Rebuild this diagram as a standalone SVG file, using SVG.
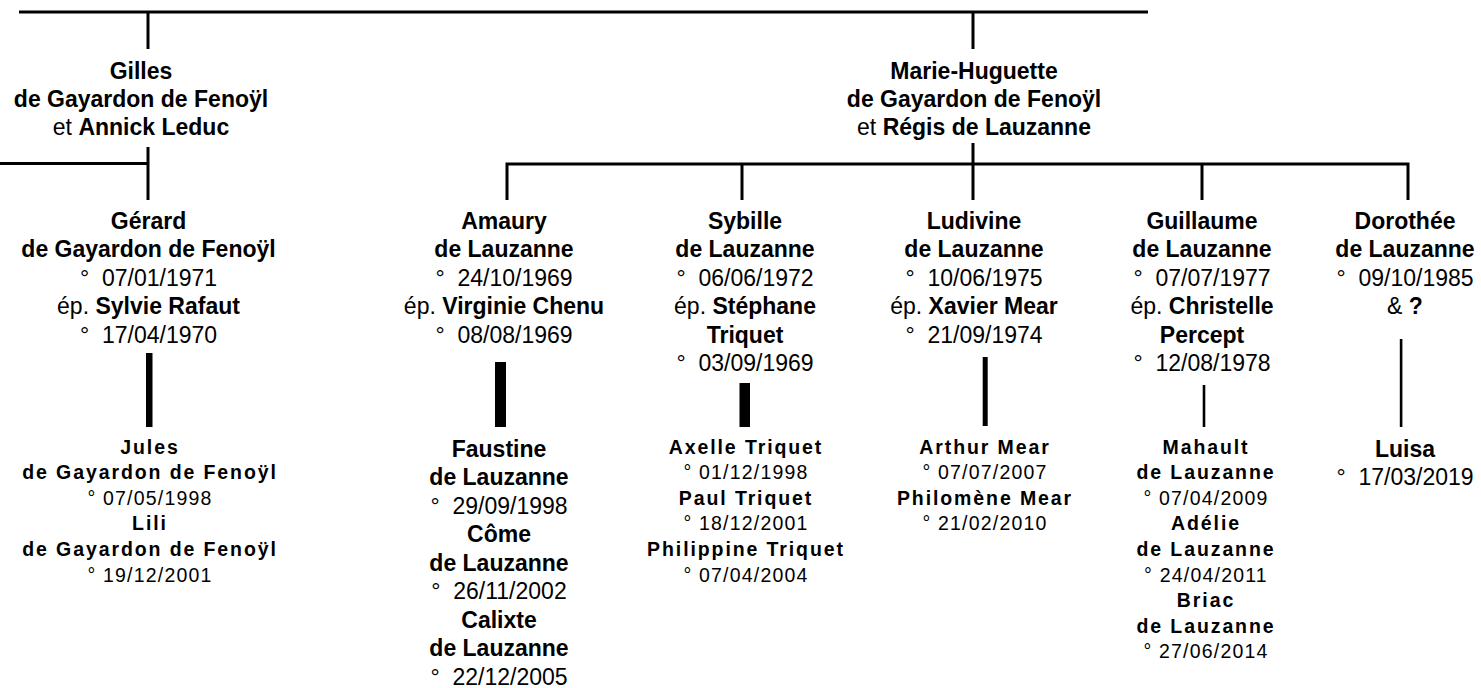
<svg xmlns="http://www.w3.org/2000/svg" width="1481" height="688" viewBox="0 0 1481 688">
<style>
.t { font-family: "Liberation Sans", Arial, sans-serif; font-size: 23px; text-anchor: middle; fill: #000; }
.b { font-weight: bold; }
.gn { font-family: "Liberation Sans", Arial, sans-serif; font-size: 19.5px; font-weight: bold; letter-spacing: 1.9px; text-anchor: middle; fill: #000; }
.gd { font-family: "Liberation Sans", Arial, sans-serif; font-size: 19.5px; letter-spacing: 1.2px; text-anchor: middle; fill: #000; }
.ln { stroke: #000; stroke-width: 3; fill: none; }
.bar { fill: #000; }
</style>
<rect width="1481" height="688" fill="#fff"/>
<g id="connectors">
  <line class="ln" x1="19" y1="12" x2="1148" y2="12"/>
  <line class="ln" x1="148" y1="12" x2="148" y2="49"/>
  <line class="ln" x1="973" y1="12" x2="973" y2="49"/>
  <line class="ln" x1="148" y1="147" x2="148" y2="200"/>
  <line class="ln" x1="0" y1="163.5" x2="148" y2="163.5"/>
  <line class="ln" x1="973" y1="143" x2="973" y2="200"/>
  <path class="ln" d="M507,200 V164 H1408 V200"/>
  <line class="ln" x1="742" y1="164" x2="742" y2="200"/>
  <line class="ln" x1="1202" y1="164" x2="1202" y2="200"/>
  <rect class="bar" x="146" y="353" width="6.5" height="74"/>
  <rect class="bar" x="495" y="362" width="11" height="65"/>
  <rect class="bar" x="739.5" y="383" width="10.5" height="44"/>
  <rect class="bar" x="982.7" y="357" width="5" height="69"/>
  <rect class="bar" x="1202.7" y="385" width="2.6" height="42"/>
  <rect class="bar" x="1399.8" y="339" width="2.6" height="88"/>
</g>
<g id="gilles">
  <text class="t b" x="141" y="79">Gilles</text>
  <text class="t b" x="141" y="107">de Gayardon de Fenoÿl</text>
  <text class="t" x="141" y="135">et <tspan class="b">Annick Leduc</tspan></text>
</g>
<g id="marie-huguette">
  <text class="t b" x="974" y="79">Marie-Huguette</text>
  <text class="t b" x="974" y="107">de Gayardon de Fenoÿl</text>
  <text class="t" x="974" y="135">et <tspan class="b">Régis de Lauzanne</tspan></text>
</g>
<g id="gerard">
  <text class="t b" x="148.5" y="228.5">Gérard</text>
  <text class="t b" x="148.5" y="257">de Gayardon de Fenoÿl</text>
  <text class="t" x="148.5" y="285.5">°&#160; 07/01/1971</text>
  <text class="t" x="148.5" y="314">ép. <tspan class="b">Sylvie Rafaut</tspan></text>
  <text class="t" x="148.5" y="342.5">°&#160; 17/04/1970</text>
</g>
<g id="amaury">
  <text class="t b" x="504" y="228.5">Amaury</text>
  <text class="t b" x="504" y="257">de Lauzanne</text>
  <text class="t" x="504" y="285.5">°&#160; 24/10/1969</text>
  <text class="t" x="504" y="314">ép. <tspan class="b">Virginie Chenu</tspan></text>
  <text class="t" x="504" y="342.5">°&#160; 08/08/1969</text>
</g>
<g id="sybille">
  <text class="t b" x="745" y="228.5">Sybille</text>
  <text class="t b" x="745" y="257">de Lauzanne</text>
  <text class="t" x="745" y="285.5">°&#160; 06/06/1972</text>
  <text class="t" x="745" y="314">ép. <tspan class="b">Stéphane</tspan></text>
  <text class="t b" x="745" y="342.5">Triquet</text>
  <text class="t" x="745" y="371">°&#160; 03/09/1969</text>
</g>
<g id="ludivine">
  <text class="t b" x="974" y="228.5">Ludivine</text>
  <text class="t b" x="974" y="257">de Lauzanne</text>
  <text class="t" x="974" y="285.5">°&#160; 10/06/1975</text>
  <text class="t" x="974" y="314">ép. <tspan class="b">Xavier Mear</tspan></text>
  <text class="t" x="974" y="342.5">°&#160; 21/09/1974</text>
</g>
<g id="guillaume">
  <text class="t b" x="1202" y="228.5">Guillaume</text>
  <text class="t b" x="1202" y="257">de Lauzanne</text>
  <text class="t" x="1202" y="285.5">°&#160; 07/07/1977</text>
  <text class="t" x="1202" y="314">ép. <tspan class="b">Christelle</tspan></text>
  <text class="t b" x="1202" y="342.5">Percept</text>
  <text class="t" x="1202" y="371">°&#160; 12/08/1978</text>
</g>
<g id="dorothee">
  <text class="t b" x="1405" y="228.5">Dorothée</text>
  <text class="t b" x="1405" y="257">de Lauzanne</text>
  <text class="t" x="1405" y="285.5">°&#160; 09/10/1985</text>
  <text class="t" x="1405" y="314">&amp; <tspan class="b">?</tspan></text>
</g>
<g id="gerard-children">
  <text class="gn" x="150" y="453.5">Jules</text>
  <text class="gn" x="150" y="479">de Gayardon de Fenoÿl</text>
  <text class="gd" x="150" y="504.7">° 07/05/1998</text>
  <text class="gn" x="150" y="530.3">Lili</text>
  <text class="gn" x="150" y="556">de Gayardon de Fenoÿl</text>
  <text class="gd" x="150" y="581.6">° 19/12/2001</text>
</g>
<g id="amaury-children">
  <text class="t b" x="499" y="456.7">Faustine</text>
  <text class="t b" x="499" y="485.2">de Lauzanne</text>
  <text class="t" x="499" y="513.7">°&#160; 29/09/1998</text>
  <text class="t b" x="499" y="542.2">Côme</text>
  <text class="t b" x="499" y="570.7">de Lauzanne</text>
  <text class="t" x="499" y="599.2">°&#160; 26/11/2002</text>
  <text class="t b" x="499" y="627.7">Calixte</text>
  <text class="t b" x="499" y="656.2">de Lauzanne</text>
  <text class="t" x="499" y="684.7">°&#160; 22/12/2005</text>
</g>
<g id="sybille-children">
  <text class="gn" x="746" y="453.5">Axelle Triquet</text>
  <text class="gd" x="746" y="479">° 01/12/1998</text>
  <text class="gn" x="746" y="504.7">Paul Triquet</text>
  <text class="gd" x="746" y="530.3">° 18/12/2001</text>
  <text class="gn" x="746" y="556">Philippine Triquet</text>
  <text class="gd" x="746" y="581.6">° 07/04/2004</text>
</g>
<g id="ludivine-children">
  <text class="gn" x="985" y="453.5">Arthur Mear</text>
  <text class="gd" x="985" y="479">° 07/07/2007</text>
  <text class="gn" x="985" y="504.7">Philomène Mear</text>
  <text class="gd" x="985" y="530.3">° 21/02/2010</text>
</g>
<g id="guillaume-children">
  <text class="gn" x="1206" y="453.5">Mahault</text>
  <text class="gn" x="1206" y="479">de Lauzanne</text>
  <text class="gd" x="1206" y="504.7">° 07/04/2009</text>
  <text class="gn" x="1206" y="530.3">Adélie</text>
  <text class="gn" x="1206" y="556">de Lauzanne</text>
  <text class="gd" x="1206" y="581.6">° 24/04/2011</text>
  <text class="gn" x="1206" y="607.2">Briac</text>
  <text class="gn" x="1206" y="632.8">de Lauzanne</text>
  <text class="gd" x="1206" y="658.4">° 27/06/2014</text>
</g>
<g id="dorothee-children">
  <text class="t b" x="1405" y="456.7">Luisa</text>
  <text class="t" x="1405" y="485.2">°&#160; 17/03/2019</text>
</g>
</svg>
